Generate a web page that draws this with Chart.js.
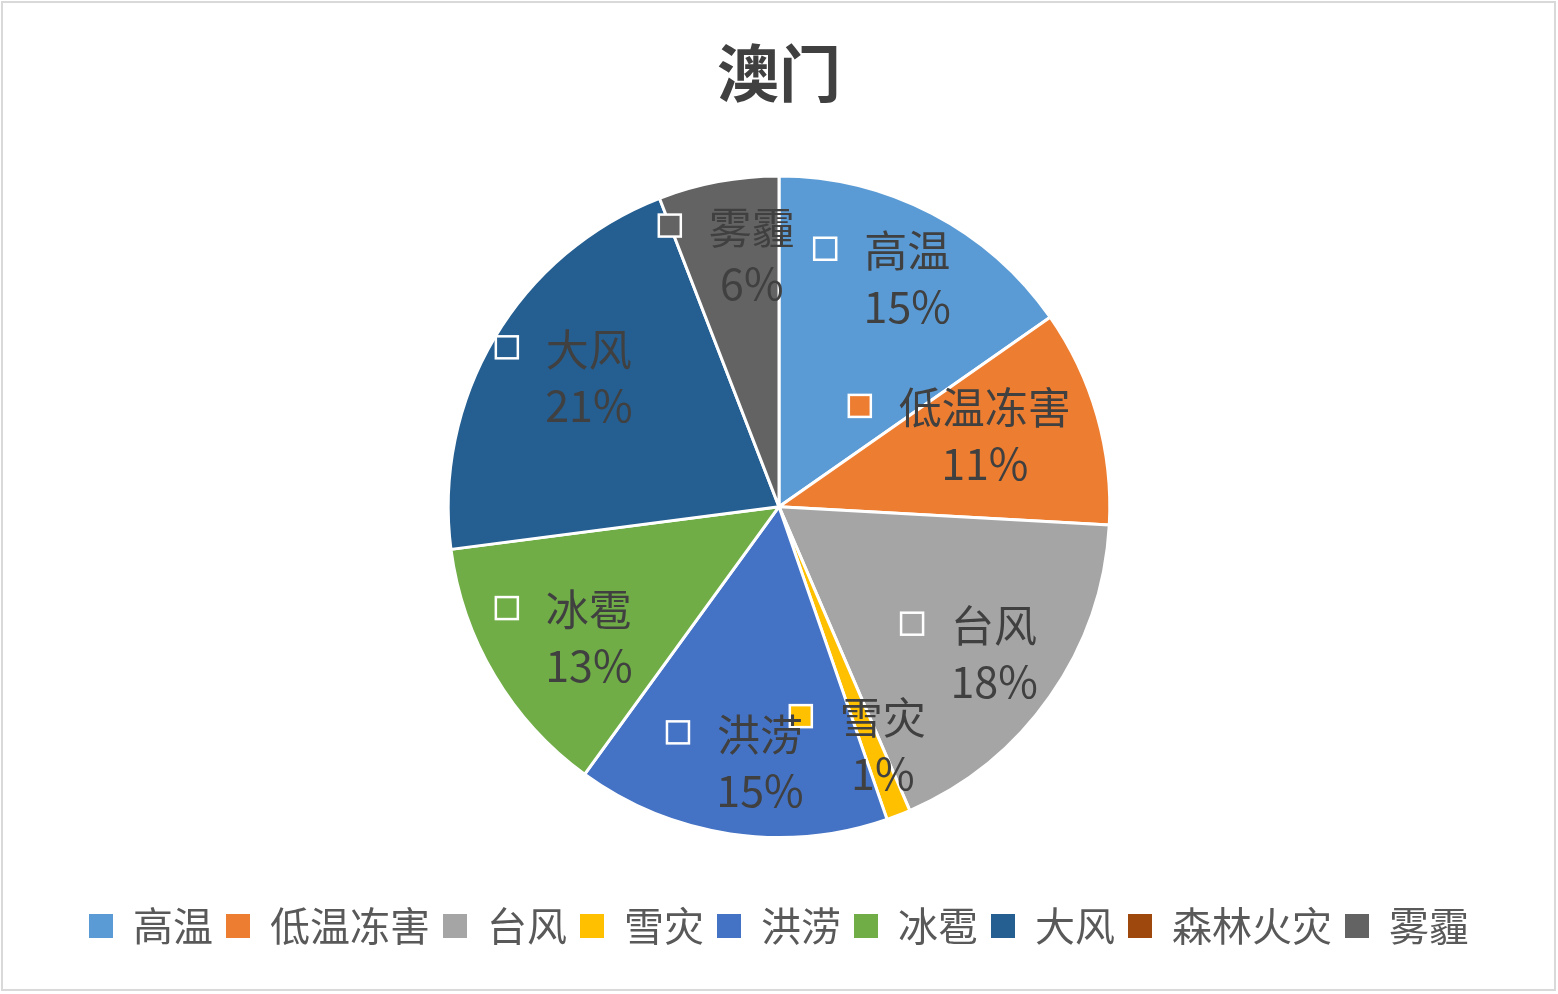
<!DOCTYPE html>
<html>
<head>
<meta charset="utf-8">
<script src="https://cdn.jsdelivr.net/npm/chart.js@4.4.0/dist/chart.umd.min.js"></script>
<style>
  html, body { margin: 0; padding: 0; background: #fff; }
  #wrap { position: relative; width: 1558px; height: 994px; }
  #frame { position: absolute; left: 1px; top: 1px; width: 1555px; height: 990px; box-sizing: border-box; border: 2px solid #d9d9d9; pointer-events: none; }
  canvas { position: absolute; left: 0; top: 0; }
</style>
</head>
<body>
<div id="wrap">
  <canvas id="c" width="1558" height="994"></canvas>
  <div id="frame"></div>
</div>
<script>
const chartTitle = '澳门';
const categories = ['高温', '低温冻害', '台风', '雪灾', '洪涝', '冰雹', '大风', '森林火灾', '雾霾'];
const values = [13, 9, 15, 1, 13, 11, 18, 0, 5];
const colors = ['#5B9BD5', '#ED7D31', '#A5A5A5', '#FFC000', '#4472C4', '#70AD47', '#255E91', '#9E480E', '#636363'];

const FONT = '"Noto Sans CJK SC", "Noto Sans", sans-serif';

const pieLabels = {
  id: 'pieLabels',
  afterDatasetsDraw(chart, args, opts) {
    const ctx = chart.ctx;
    const meta = chart.getDatasetMeta(0);
    const data = chart.data.datasets[0].data;
    const total = data.reduce((a, b) => a + b, 0);
    ctx.save();
    meta.data.forEach((arc, i) => {
      const v = data[i];
      if (!v) return;
      const p = arc.getProps(['x', 'y', 'startAngle', 'endAngle', 'outerRadius'], true);
      const mid = (p.startAngle + p.endAngle) / 2;
      const off = opts.nudge[i] || [0, 0];
      const ax = p.x + Math.cos(mid) * p.outerRadius * opts.radiusFrac + off[0];
      const ay = p.y + Math.sin(mid) * p.outerRadius * opts.radiusFrac + off[1];
      const name = chart.data.labels[i];
      const pct = Math.round(v / total * 100) + '%';
      ctx.font = opts.fontSize + 'px ' + FONT;
      const tw = ctx.measureText(name).width;
      const sq = opts.square, gap = opts.gap;
      const w = sq + gap + tw;
      const left = ax - w / 2;
      const nameY = ay - opts.lineGap / 2;
      const pctY = ay + opts.lineGap / 2;
      const tx = left + sq + gap + tw / 2;
      ctx.fillStyle = colors[i];
      ctx.fillRect(left, nameY - 2 - sq / 2, sq, sq);
      ctx.lineWidth = 2.5;
      ctx.strokeStyle = '#ffffff';
      ctx.strokeRect(left, nameY - 2 - sq / 2, sq, sq);
      ctx.fillStyle = opts.color;
      ctx.textAlign = 'center';
      ctx.textBaseline = 'middle';
      ctx.fillText(name, tx, nameY);
      ctx.fillText(pct, tx, pctY);
    });
    ctx.restore();
  }
};

new Chart(document.getElementById('c'), {
  type: 'pie',
  data: {
    labels: categories,
    datasets: [{
      data: values,
      backgroundColor: colors,
      borderColor: '#ffffff',
      borderWidth: 3
    }]
  },
  options: {
    responsive: false,
    animation: false,
    devicePixelRatio: 1,
    layout: { padding: { top: 0, bottom: 38, left: 0, right: 0 } },
    plugins: {
      title: {
        display: true,
        text: chartTitle,
        color: '#404040',
        font: { family: FONT, size: 62, weight: 'bold', lineHeight: 1.2 },
        padding: { top: 36, bottom: 64 }
      },
      legend: {
        position: 'bottom',
        title: {
          display: true,
          text: '',
          font: { size: 10, lineHeight: 1.2 },
          padding: { top: 21, bottom: 21 }
        },
        labels: {
          boxWidth: 24,
          boxHeight: 24,
          padding: 13,
          color: '#595959',
          font: { family: FONT, size: 40 },
          generateLabels(chart) {
            const items = Chart.overrides.pie.plugins.legend.labels.generateLabels(chart);
            items.forEach(it => { it.lineWidth = 0; it.strokeStyle = 'rgba(0,0,0,0)'; });
            return items;
          }
        }
      },
      tooltip: { enabled: false },
      pieLabels: {
        fontSize: 43,
        color: '#404040',
        square: 22,
        gap: 28,
        lineGap: 56,
        radiusFrac: 0.76,
        nudge: [[-13, -5], [-61, -2], [-16, 3], [-12, 5], [-7, 7], [1, 3], [1, -1], null, [-6, -4]]
      }
    }
  },
  plugins: [pieLabels]
});
</script>
</body>
</html>
